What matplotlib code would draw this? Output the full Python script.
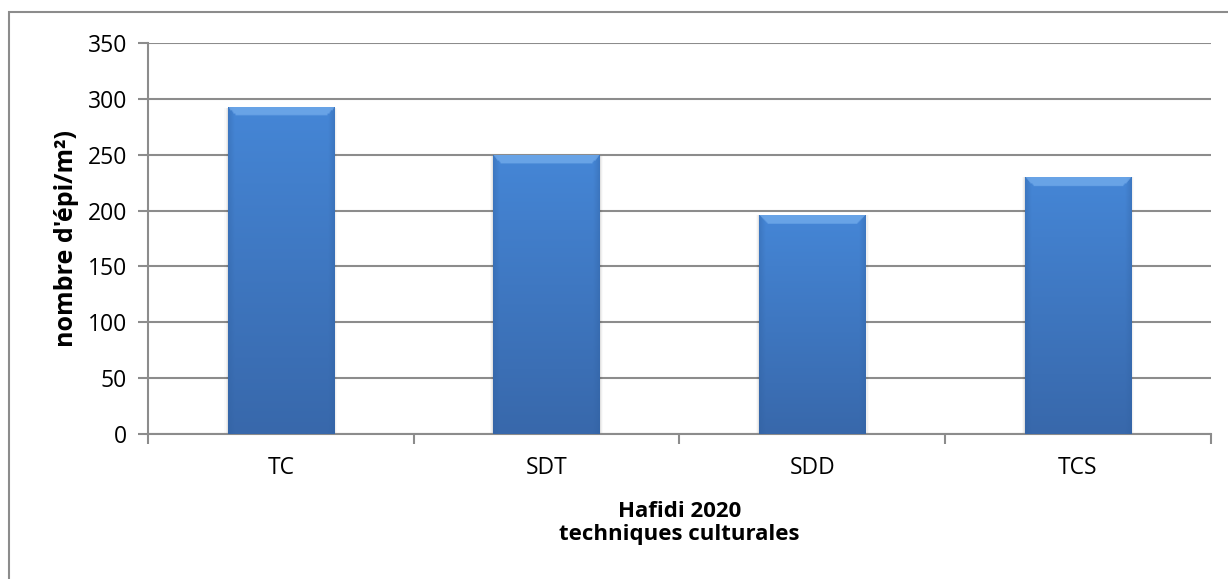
import numpy as np
import matplotlib
matplotlib.use("Agg")
import matplotlib.pyplot as plt
from matplotlib.colors import to_rgb
from matplotlib.patches import Rectangle

plt.rcParams['font.family'] = ['Open Sans', 'DejaVu Sans']

techniques = ["TC", "SDT", "SDD", "TCS"]
epis = [292, 249, 196, 230]
yticks = [0, 50, 100, 150, 200, 250, 300, 350]

fig = plt.figure(figsize=(12.28, 5.79), dpi=100)
ax = fig.add_axes([0.1205, 0.2504, 0.8655, 0.6753])

x = np.arange(len(techniques))
bars = ax.bar(x, epis, width=0.4, color="none", zorder=3)

# vertical gradient with a bevelled light top edge and darker sides
top_col = np.array(to_rgb("#4586d6"))
bot_col = np.array(to_rgb("#3868ab"))
bevel = np.array(to_rgb("#78b0ee"))
side = np.array(to_rgb("#2f5f9e"))
nh, nw = 200, 100
for b in bars:
    bx, bw, bh = b.get_x(), b.get_width(), b.get_height()
    t = np.linspace(0, 1, nh)[:, None]          # 0 = top, 1 = bottom
    img = top_col * (1 - t[..., None]) + bot_col * t[..., None]
    img = np.broadcast_to(img, (nh, nw, 3)).copy()
    u = np.linspace(0, 1, nw)[None, :]
    edge = np.minimum(u, 1 - u)
    shade = np.clip(1 - edge / 0.06, 0, 1)[..., None] * 0.35
    img = img * (1 - shade) + side * shade
    # bevel band at the top, in pixels of the bar
    px_h = bh * 1.117
    band = 8.0 / px_h
    rows = np.linspace(0, 1, nh)[:, None]
    mask = (rows < band) & (edge > rows * px_h / (bw * 265.75))
    img[mask] = img[mask] * 0.3 + bevel * 0.7
    ax.imshow(img, extent=[bx, bx + bw, 0, bh], aspect="auto",
              zorder=3, interpolation="bilinear")
    # soft shadow around each bar
    for k, a in enumerate([0.06, 0.04, 0.02]):
        d = 0.004 * (k + 1)
        ax.add_patch(Rectangle((bx - d, 0), bw + 2 * d, bh + d * 5,
                               color="k", alpha=a, lw=0, zorder=2))

ax.set_xlim(-0.5, len(techniques) - 0.5)
ax.set_ylim(0, 350)
ax.set_yticks(yticks)
ax.yaxis.grid(True, color="#8c8c8c", lw=1.5, zorder=1)
ax.set_axisbelow(True)

ax.set_xticks(x)
ax.set_xticklabels(techniques, fontsize=16.5)
ax.set_xticks(np.arange(-0.5, len(techniques)), minor=True)
ax.tick_params(axis="x", which="major", length=0, pad=16)
ax.tick_params(axis="x", which="minor", length=7, color="#8c8c8c", width=1.5)
ax.tick_params(axis="y", length=7, color="#8c8c8c", width=1.5, labelsize=16.5, pad=8)

for s in ["top", "right"]:
    ax.spines[s].set_visible(False)
for s in ["left", "bottom"]:
    ax.spines[s].set_color("#8c8c8c")
    ax.spines[s].set_linewidth(1.5)

ax.set_xlabel("Hafidi 2020\ntechniques culturales", fontsize=16,
              fontweight="bold", labelpad=15, linespacing=1.15)
ax.set_ylabel("nombre d'épi/m²)", fontsize=18, fontweight="bold")
ax.yaxis.set_label_coords(-0.065, 0.5)

# chart frame
fig.patches.append(Rectangle((9 / 1228, -0.1), 1.2, 1 - 12.5 / 579 + 0.1,
                             transform=fig.transFigure, fill=False,
                             edgecolor="#8c8c8c", lw=1.5))

fig.savefig("out.png", dpi=100)
